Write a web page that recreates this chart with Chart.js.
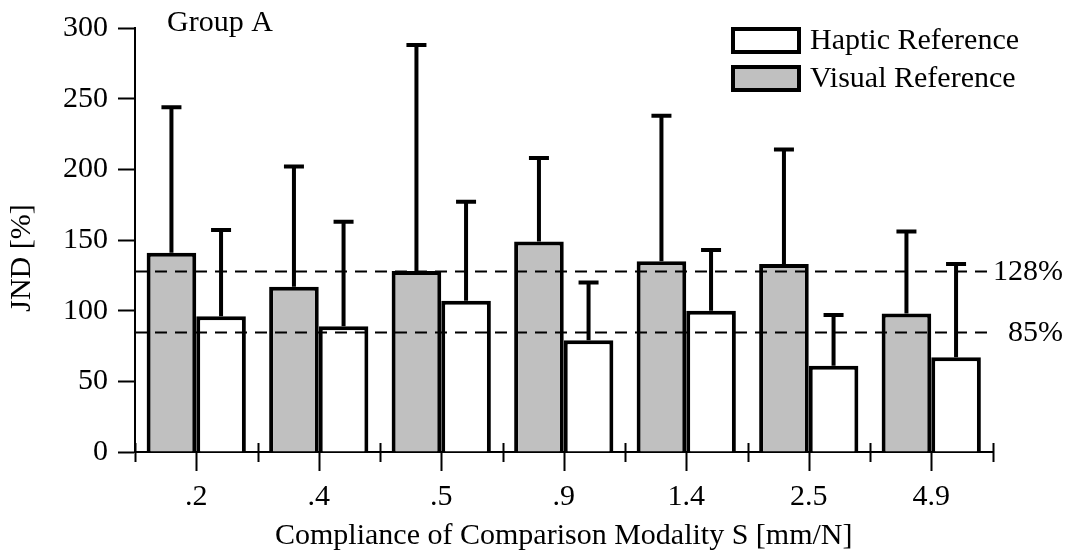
<!DOCTYPE html>
<html>
<head>
<meta charset="utf-8">
<script src="https://cdn.jsdelivr.net/npm/chart.js@4/dist/chart.umd.min.js"></script>
<style>
  html, body { margin: 0; padding: 0; background: #fff; }
  #wrap { width: 1069px; height: 554px; position: relative; }
</style>
</head>
<body>
<div id="wrap"><canvas id="chart"></canvas></div>
<script>
// compliance categories (mm/N)
var categories = [".2", ".4", ".5", ".9", "1.4", "2.5", "4.9"];
// JND means and upper ends of the error bars, in %
var visualMean = [141, 117, 128, 149, 135, 133, 98];
var visualUpper = [244, 202, 288, 208, 238, 214, 156];
var hapticMean = [96, 89, 107, 79, 100, 61, 67];
var hapticUpper = [157, 163, 177, 120, 143, 97, 133];
var refLines = [128, 85];
var refLabels = ["128%", "85%"];

var FONT = '"Liberation Serif", "Times New Roman", serif';
var GRAY = "#c0c0c0";

var overlay = {
  id: "overlay",
  afterDatasetsDraw: function (chart) {
    var ctx = chart.ctx, xs = chart.scales.x, ys = chart.scales.y, area = chart.chartArea;
    ctx.save();

    // dashed reference lines + their labels
    ctx.strokeStyle = "#000";
    ctx.lineWidth = 2;
    ctx.setLineDash([12, 8]);
    refLines.forEach(function (v) {
      var py = Math.round(ys.getPixelForValue(v)) + 0.5;
      ctx.beginPath();
      ctx.moveTo(area.left, py);
      ctx.lineTo(area.right, py);
      ctx.stroke();
    });
    ctx.setLineDash([]);
    ctx.fillStyle = "#000";
    ctx.font = "30px " + FONT;
    ctx.textAlign = "right";
    ctx.textBaseline = "middle";
    refLines.forEach(function (v, i) {
      ctx.fillText(refLabels[i], 1063, ys.getPixelForValue(v) + 1);
    });

    // error bars (upper only)
    var uppers = [visualUpper, hapticUpper];
    ctx.lineWidth = 4;
    ctx.lineCap = "butt";
    uppers.forEach(function (arr, d) {
      var meta = chart.getDatasetMeta(d);
      meta.data.forEach(function (bar, j) {
        var top = ys.getPixelForValue(arr[j]);
        ctx.beginPath();
        ctx.moveTo(bar.x, bar.y);
        ctx.lineTo(bar.x, top);
        ctx.moveTo(bar.x - 10, top);
        ctx.lineTo(bar.x + 10, top);
        ctx.stroke();
      });
    });

    // x axis ticks: dividers cross the axis, centres hang below
    ctx.lineWidth = 2;
    var base = area.bottom;
    for (var j = 0; j <= categories.length; j++) {
      var dx = Math.round(xs.getPixelForValue(j - 0.5)) + 0.5;
      ctx.beginPath();
      ctx.moveTo(dx, base - 9);
      ctx.lineTo(dx, base + 10);
      ctx.stroke();
    }
    categories.forEach(function (c, j) {
      var cx = Math.round(xs.getPixelForValue(j)) + 0.5;
      ctx.beginPath();
      ctx.moveTo(cx, base);
      ctx.lineTo(cx, base + 19);
      ctx.stroke();
    });

    // group label
    ctx.font = "30px " + FONT;
    ctx.textAlign = "left";
    ctx.textBaseline = "alphabetic";
    ctx.fillText("Group A", 167, 31);

    // y axis title
    ctx.save();
    ctx.translate(22, 258);
    ctx.rotate(-Math.PI / 2);
    ctx.textAlign = "center";
    ctx.textBaseline = "middle";
    ctx.fillText("JND [%]", 0, 0);
    ctx.restore();

    // legend (haptic listed first)
    var items = [["Haptic Reference", "#fff", 29], ["Visual Reference", GRAY, 67]];
    items.forEach(function (it) {
      ctx.fillStyle = it[1];
      ctx.fillRect(733, it[2], 66, 23);
      ctx.strokeStyle = "#000";
      ctx.lineWidth = 4;
      ctx.strokeRect(733, it[2], 66, 23);
      ctx.fillStyle = "#000";
      ctx.textBaseline = "middle";
      ctx.fillText(it[0], 810, it[2] + 12);
    });

    ctx.restore();
  }
};

new Chart(document.getElementById("chart"), {
  type: "bar",
  data: {
    labels: categories,
    datasets: [
      {
        label: "Visual Reference",
        data: visualMean,
        backgroundColor: GRAY,
        borderColor: "#000",
        borderWidth: 4,
        categoryPercentage: 0.81,
        barPercentage: 1.0
      },
      {
        label: "Haptic Reference",
        data: hapticMean,
        backgroundColor: "#fff",
        borderColor: "#000",
        borderWidth: 4,
        categoryPercentage: 0.81,
        barPercentage: 1.0
      }
    ]
  },
  options: {
    responsive: true,
    maintainAspectRatio: false,
    animation: false,
    layout: { autoPadding: false, padding: { top: 24, right: 76.5, left: 0, bottom: 0 } },
    plugins: { legend: { display: false }, tooltip: { enabled: false } },
    scales: {
      x: {
        offset: true,
        grid: { display: false },
        border: { display: true, color: "#000", width: 2 },
        ticks: { color: "#000", font: { family: FONT, size: 30 }, padding: 19, maxRotation: 0 },
        title: {
          display: true,
          text: "Compliance of Comparison Modality S [mm/N]",
          color: "#000",
          font: { family: FONT, size: 30 },
          padding: { top: 8, bottom: 0 }
        },
        afterFit: function (s) { s.height = 102; }
      },
      y: {
        min: 0,
        max: 300,
        ticks: { stepSize: 50, color: "#000", font: { family: FONT, size: 30 }, padding: 10 },
        grid: { drawOnChartArea: false, drawTicks: true, tickLength: 17, tickWidth: 2, tickColor: "#000" },
        border: { display: true, color: "#000", width: 2 },
        afterFit: function (s) { s.width = 135; }
      }
    }
  },
  plugins: [overlay]
});
</script>
</body>
</html>
